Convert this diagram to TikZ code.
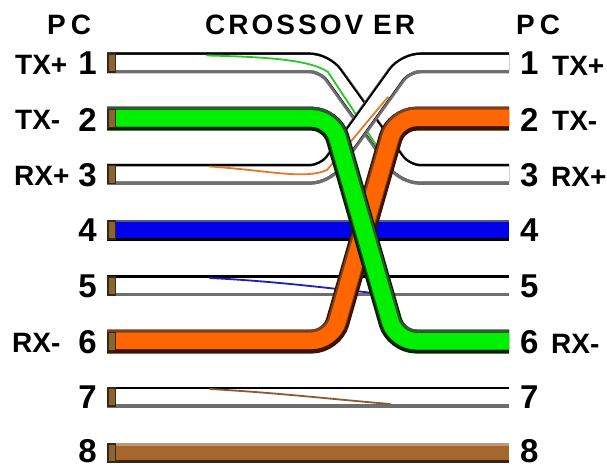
\documentclass[tikz,border=0pt]{standalone}
\usepackage{fontspec}
\setmainfont{Liberation Sans}
\usetikzlibrary{calc}
\definecolor{wgray}{RGB}{110,110,110}
\definecolor{bluefill}{RGB}{0,0,236}
\definecolor{bluetop}{RGB}{90,90,120}
\definecolor{brownfill}{RGB}{164,104,44}
\definecolor{browntop}{RGB}{192,152,120}
\definecolor{brownbot}{RGB}{60,36,16}
\definecolor{orfill}{RGB}{255,102,0}
\definecolor{ortop}{RGB}{122,64,32}
\definecolor{orbot}{RGB}{60,20,0}
\definecolor{grfill}{RGB}{0,240,0}
\definecolor{grtop}{RGB}{50,90,50}
\definecolor{grbot}{RGB}{0,40,0}
\definecolor{capfill}{RGB}{140,100,50}
\definecolor{capdraw}{RGB}{55,40,20}
\definecolor{strgreen}{RGB}{40,200,40}
\definecolor{strorange}{RGB}{230,120,40}
\definecolor{strblue}{RGB}{30,30,190}
\definecolor{strbrown}{RGB}{140,90,50}
\newcommand\drawcable[4]{%
  \draw[#1bot] #4;
  \begin{scope}[transform canvas={yshift=#2pt}]\draw[#1top] #4;\end{scope}
  \begin{scope}[transform canvas={yshift=#3pt}]\draw[#1fill] #4;\end{scope}
}
\tikzset{
  wbot/.style={draw=wgray, line width=21pt, rounded corners=15pt},
  wtop/.style={draw=black, line width=17.5pt, rounded corners=15pt},
  wfill/.style={draw=white, line width=15pt, rounded corners=15pt},
  bbot/.style={draw=black, line width=21pt},
  btop/.style={draw=bluetop, line width=18pt},
  bfill/.style={draw=bluefill, line width=15.5pt},
  nbot/.style={draw=brownbot, line width=20pt},
  ntop/.style={draw=browntop, line width=17pt},
  nfill/.style={draw=brownfill, line width=14pt},
  obot/.style={draw=orbot, line width=24pt, rounded corners=20pt},
  otop/.style={draw=ortop, line width=19.5pt, rounded corners=20pt},
  ofill/.style={draw=orfill, line width=16.5pt, rounded corners=20pt},
  gbot/.style={draw=grbot, line width=24pt, rounded corners=20pt},
  gtop/.style={draw=grtop, line width=20pt, rounded corners=20pt},
  gfill/.style={draw=grfill, line width=16.5pt, rounded corners=20pt},
  stripe/.style={line width=1.8pt, line cap=round},
  capend/.style={fill=capfill, draw=capdraw, line width=1.5pt},
  numlab/.style={font=\bfseries\fontsize{33}{33}\selectfont, inner sep=0pt},
  siglab/.style={font=\bfseries\fontsize{28}{28}\selectfont, inner sep=0pt},
  headlab/.style={font=\bfseries\fontsize{28}{28}\selectfont, inner sep=0pt}
}
\begin{document}
\begin{tikzpicture}[x=1pt,y=-1pt]
\fill[white] (0,0) rectangle (607,468);
\useasboundingbox (0,0) rectangle (607,468);
% pin coordinates
\foreach \i/\yy in {1/63,2/118.7,3/174.4,4/230.1,5/285.8,6/341.5,7/397.2,8/452.9}{
  \coordinate (L\i) at (107,\yy);
  \coordinate (R\i) at (509,\yy);
}
\coordinate (a1) at (325,63);
\coordinate (a2) at (405,174.4);
\coordinate (b1) at (325,174.4);
\coordinate (b2) at (405,63);
\coordinate (g1) at (332,118.7);
\coordinate (g2) at (396,341.5);
\coordinate (o1) at (332,341.5);
\coordinate (o2) at (396,118.7);
% white/green pair 1 -> 3
\drawcable{w}{1.75}{0.5}{(L1) -- (a1) -- (a2) -- (R3)}
\draw[stripe, strgreen] (207,55.5) .. controls (270,57) and (310,60) .. (328,72) -- (378,148);
% white/orange pair 3 -> 1
\drawcable{w}{1.75}{0.5}{(L3) -- (b1) -- (b2) -- (R1)}
\draw[stripe, strorange] (210,166.5) .. controls (265,170) and (305,180) .. (327,170) -- (388,97);
% straight wires
\drawcable{b}{1.5}{0.25}{(L4) -- (R4)}
\drawcable{w}{1.75}{0.5}{(L5) -- (R5)}
\draw[stripe, strblue] (210,278) .. controls (270,281) and (320,287) .. (373,293);
\drawcable{w}{1.75}{0.5}{(L7) -- (R7)}
\draw[stripe, strbrown] (210,389) .. controls (280,393) and (330,399) .. (390,404);
\drawcable{n}{1.5}{0}{(L8) -- (R8)}
% crossed pair
\drawcable{o}{2.25}{0.75}{(L6) -- (o1) -- (o2) -- (R2)}
\drawcable{g}{2}{0.25}{(L2) -- (g1) -- (g2) -- (R6)}
% left wire ends
\foreach \i in {1,...,8}{
  \draw[capend] ($(L\i)+(0.75,-9)$) rectangle ($(L\i)+(8.5,9)$);
}
% headings
\node[headlab, anchor=west] (pcl) at (47,25) {P\kern5pt C};
\node[headlab, anchor=west] (xover) at (205,25) {C\kern3pt R\kern3pt O\kern3pt S\kern3pt S\kern3pt O\kern3pt V\kern10pt E\kern3pt R};
\node[headlab, anchor=west] (pcr) at (516,25) {P\kern5pt C};
% pin numbers
\foreach \i/\yy in {1/63.5,2/119.5,3/175,4/230,5/286,6/342,7/397,8/451}{
  \node[numlab, anchor=east] (ln\i) at (97,\yy) {\i};
  \node[numlab, anchor=west] (rn\i) at (520,\yy) {\i};
}
% signal names
\node[siglab, anchor=west] (ls1) at (15,64.5) {TX+};
\node[siglab, anchor=west] (ls2) at (15,120.2) {TX-};
\node[siglab, anchor=west] (ls3) at (14,175.9) {RX+};
\node[siglab, anchor=west] (ls6) at (12,343) {RX-};
\node[siglab, anchor=west] (rs1) at (552,65.5) {TX+};
\node[siglab, anchor=west] (rs2) at (552,121) {TX-};
\node[siglab, anchor=west] (rs3) at (551,176.5) {RX+};
\node[siglab, anchor=west] (rs6) at (551,343.5) {RX-};
\end{tikzpicture}
\end{document}
